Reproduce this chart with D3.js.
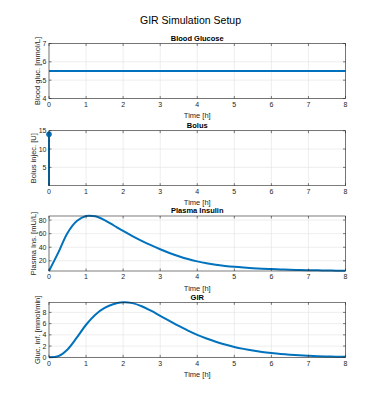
<!DOCTYPE html>
<html><head><meta charset="utf-8">
<script src="https://cdn.jsdelivr.net/npm/d3@7"></script>
<style>body{margin:0;background:#fff}svg{display:block}text{font-family:"Liberation Sans",Arial,sans-serif}</style>
</head><body><svg id="c" width="382" height="405"></svg>
<script>
const figTitle = "GIR Simulation Setup";
const panelTitles = ["Blood Glucose", "Bolus", "Plasma Insulin", "GIR"];
const yLabels = ["Blood gluc. [mmol/L]", "Bolus injec. [U]", "Plasma Ins. [mU/L]", "Gluc. inf. [mmol/min]"];
const xLabel = "Time [h]";
const xTicks = [0,1,2,3,4,5,6,7,8];
const timeGrid = [0,0.25,0.5,0.75,1,1.25,1.5,1.75,2,2.25,2.5,2.75,3,3.25,3.5,3.75,4,4.25,4.5,4.75,5,5.25,5.5,5.75,6,6.25,6.5,6.75,7,7.25,7.5,7.75,8];
const glucoseT = [0, 8];
const glucoseV = [5.5, 5.5];
const bolusT = [0];
const bolusV = [14];
const insulinV = [5,32,61,78.5,86,85.5,80,72,64,56.5,49.5,43,37,31.5,26.8,22.6,19.2,16.4,14.2,12.5,11.1,10,9.1,8.4,7.8,7.3,6.9,6.5,6.2,5.95,5.75,5.55,5.4];
const girV = [0,0.2,1.4,3.5,5.8,7.6,8.8,9.5,9.8,9.65,9.1,8.3,7.4,6.5,5.6,4.75,4.0,3.35,2.78,2.28,1.85,1.5,1.2,0.95,0.75,0.58,0.45,0.35,0.27,0.2,0.15,0.11,0.08];
const yTicksList = [[4,5,6,7],[5,10,15],[20,40,60,80],[0,2,4,6,8]];

const svg = d3.select("#c");
const L = 49, R = 345.5, H = 55;
const tops = [43.5, 130.7, 216, 302.3];
const blue = "#0072BD", axC = "#262626", gridC = "#e3e3e3";

svg.append("text").attr("x", 190.5).attr("y", 24).attr("text-anchor","middle")
  .attr("font-size", 10.5).attr("fill","#000").text(figTitle);

const x = d3.scaleLinear().domain([0,8]).range([L,R]);
const domains = [[4,7],[0,15],d3.extent(insulinV),d3.extent(girV)];

tops.forEach((top, i) => {
  const y = d3.scaleLinear().domain(domains[i]).range([top+H, top]);
  const g = svg.append("g");
  g.selectAll(".gx").data(xTicks).join("line")
    .attr("x1", d=>x(d)).attr("x2", d=>x(d)).attr("y1", top).attr("y2", top+H)
    .attr("stroke", gridC).attr("stroke-width", 0.6);
  g.selectAll(".gy").data(yTicksList[i]).join("line")
    .attr("x1", L).attr("x2", R).attr("y1", d=>y(d)).attr("y2", d=>y(d))
    .attr("stroke", gridC).attr("stroke-width", 0.6);
  if (i === 0) {
    g.append("path").datum(glucoseT.map((t,k)=>[t,glucoseV[k]]))
      .attr("d", d3.line().x(d=>x(d[0])).y(d=>y(d[1])))
      .attr("fill","none").attr("stroke",blue).attr("stroke-width",2);
  } else if (i === 1) {
    bolusT.forEach((t,k)=>{
      g.append("line").attr("x1",x(t)).attr("x2",x(t)).attr("y1",y(0)).attr("y2",y(bolusV[k]))
        .attr("stroke",blue).attr("stroke-width",2);
      g.append("circle").attr("cx",x(t)).attr("cy",y(bolusV[k])).attr("r",2.8).attr("fill",blue);
    });
  } else {
    const vals = i === 2 ? insulinV : girV;
    g.append("path").datum(timeGrid.map((t,k)=>[t,vals[k]]))
      .attr("d", d3.line().curve(d3.curveCatmullRom.alpha(0.5)).x(d=>x(d[0])).y(d=>y(d[1])))
      .attr("fill","none").attr("stroke",blue).attr("stroke-width",2);
  }
  g.append("rect").attr("x",L).attr("y",top).attr("width",R-L).attr("height",H)
    .attr("fill","none").attr("stroke",axC).attr("stroke-width",0.6);
  const tl = 2.5;
  xTicks.forEach(d=>{
    g.append("line").attr("x1",x(d)).attr("x2",x(d)).attr("y1",top+H).attr("y2",top+H-tl).attr("stroke",axC).attr("stroke-width",0.6);
    g.append("line").attr("x1",x(d)).attr("x2",x(d)).attr("y1",top).attr("y2",top+tl).attr("stroke",axC).attr("stroke-width",0.6);
  });
  yTicksList[i].forEach(d=>{
    g.append("line").attr("x1",L).attr("x2",L+tl).attr("y1",y(d)).attr("y2",y(d)).attr("stroke",axC).attr("stroke-width",0.6);
    g.append("line").attr("x1",R).attr("x2",R-tl).attr("y1",y(d)).attr("y2",y(d)).attr("stroke",axC).attr("stroke-width",0.6);
  });
  g.selectAll(".xl").data(xTicks).join("text")
    .attr("x", d=>x(d)).attr("y", top+H+8.3).attr("text-anchor","middle")
    .attr("font-size",7).attr("fill",axC).text(d=>d);
  let maxW = 0;
  g.selectAll(".yl").data(yTicksList[i]).join("text")
    .attr("x", L-2.5).attr("y", d=>y(d)+2.5).attr("text-anchor","end")
    .attr("font-size",7).attr("fill",axC).text(d=>d)
    .each(function(){ maxW = Math.max(maxW, this.getComputedTextLength()); });
  g.append("text").attr("x",(L+R)/2).attr("y",top+H+19.5).attr("text-anchor","middle")
    .attr("font-size",7.5).attr("fill",axC).text(xLabel);
  const yx = L-2.5-maxW-3;
  g.append("text").attr("transform",`translate(${yx},${top+H/2}) rotate(-90)`)
    .attr("text-anchor","middle").attr("font-size",7.5).attr("fill",axC).text(yLabels[i]);
  g.append("text").attr("x",(L+R)/2).attr("y",top-2.8).attr("text-anchor","middle")
    .attr("font-size",7.5).attr("font-weight","bold").attr("fill","#000").text(panelTitles[i]);
});
</script></body></html>
